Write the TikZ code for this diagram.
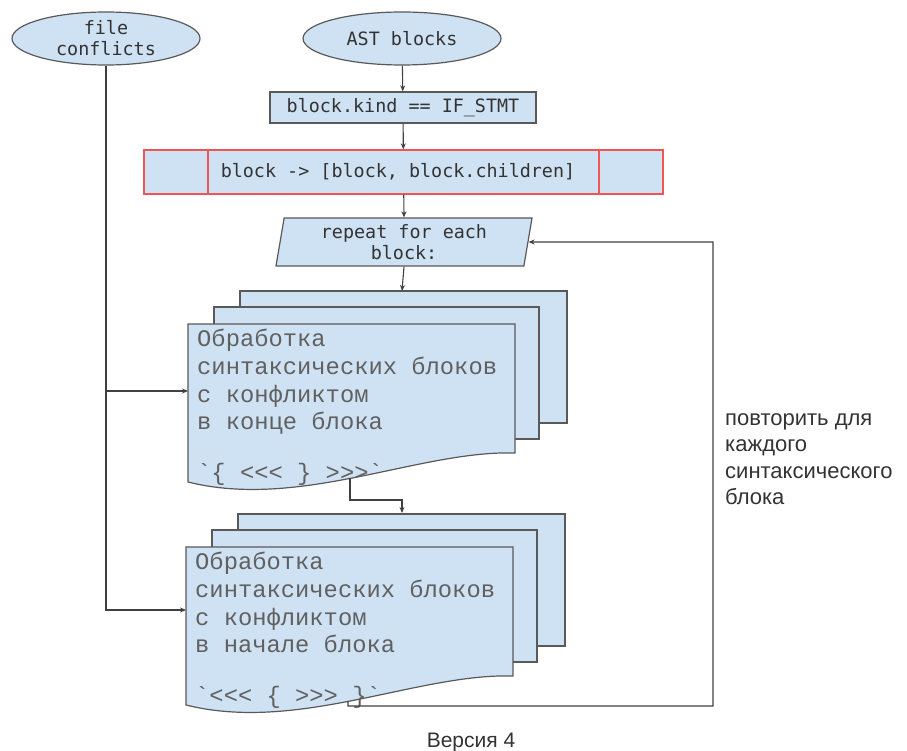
\documentclass[tikz,border=0pt]{standalone}
\usepackage{fontspec}
\setmainfont{Liberation Sans}
\newfontfamily\codefont{DejaVu Sans Mono}
\newfontfamily\docfont{Liberation Mono}
\usetikzlibrary{shapes.geometric,arrows.meta}

\definecolor{boxfill}{HTML}{CFE2F3}
\definecolor{boxline}{HTML}{595959}
\definecolor{redline}{HTML}{F05555}
\definecolor{codetext}{HTML}{333333}
\definecolor{doctext}{HTML}{606060}
\definecolor{wirecol}{HTML}{404040}

% a stack of three sheets with a wavy front sheet; #1 = origin of the front sheet
\newcommand\docstack[4]{%
  \begin{scope}[shift={#1}]
    \draw[box] (52,-33) rectangle (379,99);
    \draw[box] (26,-17) rectangle (351,115);
    \draw[box] (0,0) -- (327,0) -- (327,129)
      .. controls (232,126) and (112,186) .. (0,158) -- cycle;
    \node[doc,anchor=north west] (#2) at (9,5)
      {Обработка\\синтаксических блоков\\с конфликтом\\#3\\[22.7pt]#4};
  \end{scope}}

\begin{document}
\begin{tikzpicture}[x=1pt,y=-1pt,
  box/.style={draw=boxline,fill=boxfill,line width=1.2pt},
  code/.style={font=\codefont\fontsize{18.4}{21}\selectfont,text=codetext},
  doc/.style={font=\docfont\fontsize{23.8}{27.7}\selectfont,text=doctext,
    align=left,inner sep=0pt},
  wire/.style={draw=wirecol,line width=1.1pt},
  arr/.style={wire,-{Stealth[length=6pt,width=5pt]}},
]
\useasboundingbox (0,0) rectangle (907,751);

% sources
\node[box,ellipse,code,minimum width=188pt,minimum height=53pt,inner sep=0pt,
  align=center] (fc) at (106,38.5) {file\\conflicts};
\node[box,ellipse,code,minimum width=198pt,minimum height=53pt,inner sep=0pt]
  (ast) at (402,38.5) {AST blocks};

% filter and split
\node[box,code,minimum width=266pt,minimum height=31pt,inner sep=0pt]
  (kind) at (403,107.5) {block.kind == IF\_STMT};
\node[box,draw=redline,minimum width=519pt,minimum height=44pt,inner sep=0pt]
  (split) at (403.5,172) {};
\draw[redline,line width=1.2pt] (208,150) -- (208,194) (599,150) -- (599,194);
\node[code] (splittext) at (398,172) {block -> [block, block.children]};

% loop head
\node[box,trapezium,trapezium left angle=77,trapezium right angle=103,
  trapezium stretches body,minimum width=256pt,minimum height=48pt,
  inner sep=0pt,code,align=center] (rep) at (404,242) {repeat for each\\block:};

% processing stacks
\docstack{(188,324)}{proc1}{в конце блока}{`\{ <<< \} >>>`}
\docstack{(186,547)}{proc2}{в начале блока}{`<<< \{ >>> \}`}

% connector end points on the stacks
\coordinate (s1top) at (402,291);
\coordinate (s1left) at (188,391);
\coordinate (s1out) at (350,478);
\coordinate (s2top) at (402,513);
\coordinate (s2left) at (186,610);
\coordinate (s2out) at (348,701);
\coordinate (branch) at (106,391);
\coordinate (loopcorner) at (713,242);

% main flow
\draw[arr] (ast) -- (kind);
\draw[arr] (kind) -- (split);
\draw[arr] (split) -- (rep.north);
\draw[arr] (rep.south) -- (s1top);
\draw[arr] (s1out) -- ++(0,22) -| (s2top);

% conflicts feed both stacks
\draw[arr] (fc.south) |- (s2left);
\draw[arr] (branch) -- (s1left);

% loop back
\draw[arr] (s2out) -- ++(0,5) -| (loopcorner) -- (rep.east);

% notes
\node[font=\fontsize{22}{26.5}\selectfont,text=codetext,align=left,
  anchor=north west,inner sep=0pt] (note) at (725,413)
  {повторить для\\каждого\\синтаксического\\блока};
\node[font=\fontsize{21}{24}\selectfont,text=codetext,anchor=base,inner sep=0pt]
  (ver) at (471,747) {Версия 4};
\end{tikzpicture}
\end{document}
